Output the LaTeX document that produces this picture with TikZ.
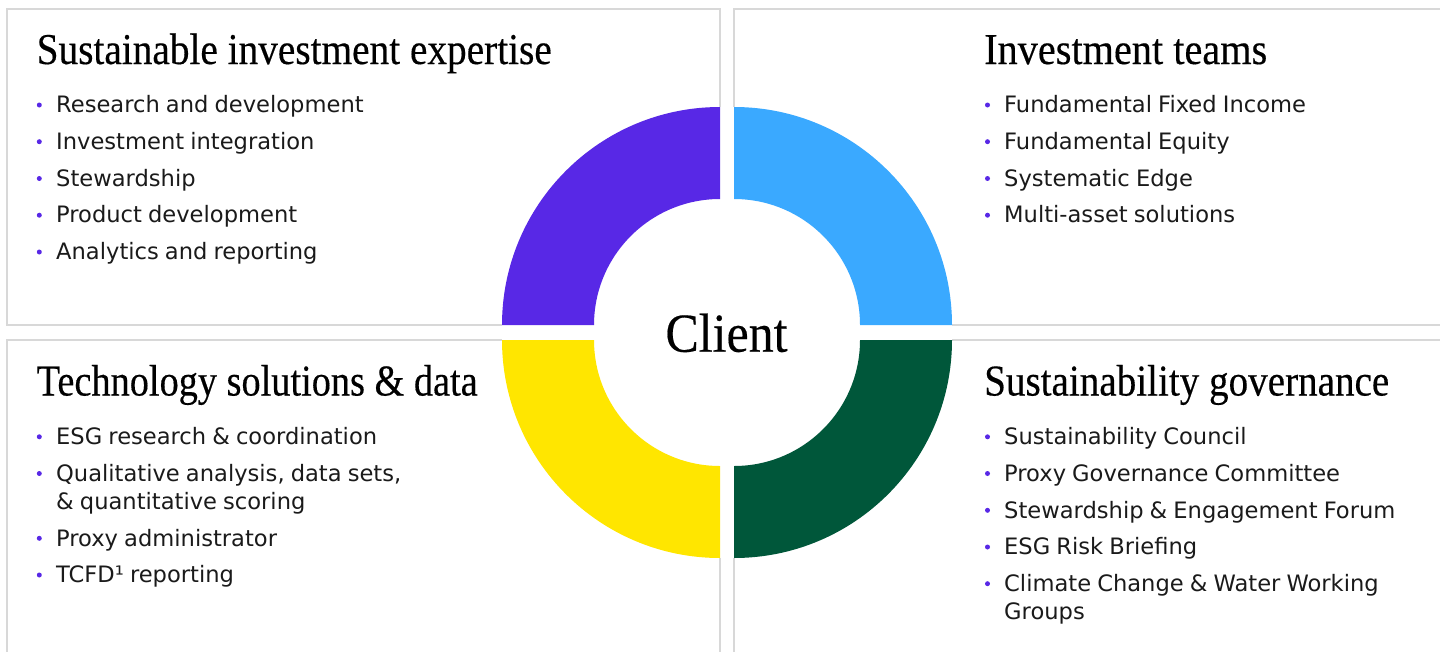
\documentclass[tikz,border=0pt]{standalone}
\usepackage{fontspec}
\usepackage{graphicx}
\setmainfont{Liberation Serif}
\newfontfamily\ttlfont{Liberation Serif}[FakeBold=0.35]
\newfontfamily\bodyfont{DejaVu Sans}[WordSpace=0.85]
\definecolor{cpurple}{HTML}{5828E6}
\definecolor{cblue}{HTML}{3AA9FF}
\definecolor{cyellow}{HTML}{FFE600}
\definecolor{cgreen}{HTML}{00573A}
\definecolor{cborder}{HTML}{D8D8D8}
\definecolor{ctext}{HTML}{1A1A1A}
\newcommand{\fitttl}[2]{\resizebox{#1}{\height}{#2}}
\begin{document}
\begin{tikzpicture}[x=1pt,y=-1pt,
  bord/.style={draw=cborder,line width=1.8pt},
  ttl/.style={anchor=base west,inner sep=0pt,font=\ttlfont\fontsize{44}{44}\selectfont,text=black},
  itm/.style={anchor=base west,inner sep=0pt,align=left,font=\bodyfont\fontsize{22.6}{28}\selectfont,text=ctext},
  bul/.style={fill=cpurple}]
\useasboundingbox (0,0) rectangle (1440,651);
% box borders
\draw[bord] (7,9) rectangle (720,325);
\draw[bord] (1450,9) -- (734,9) -- (734,325) -- (1450,325);
\draw[bord] (7,660) -- (7,340) -- (720,340) -- (720,660);
\draw[bord] (1450,340) -- (734,340) -- (734,660);
% white cover under ring
\fill[white] (720,325) -- (502,325) arc[start angle=180,end angle=270,radius=218] -- cycle;
\fill[white] (734,325) -- (952,325) arc[start angle=0,end angle=-90,radius=218] -- cycle;
\fill[white] (734,340) -- (952,340) arc[start angle=0,end angle=90,radius=218] -- cycle;
\fill[white] (720,340) -- (502,340) arc[start angle=180,end angle=90,radius=218] -- cycle;
\fill[white] (502,323.5) rectangle (952,341.5);
\fill[white] (718.5,107) rectangle (735.5,558);
% ring quadrants
\fill[cpurple] (502,325) arc[start angle=180,end angle=270,radius=218] -- (720,199) arc[start angle=270,end angle=180,radius=126] -- cycle;
\fill[cblue] (952,325) arc[start angle=0,end angle=-90,radius=218] -- (734,199) arc[start angle=270,end angle=360,radius=126] -- cycle;
\fill[cgreen] (952,340) arc[start angle=0,end angle=90,radius=218] -- (734,466) arc[start angle=90,end angle=0,radius=126] -- cycle;
\fill[cyellow] (502,340) arc[start angle=180,end angle=90,radius=218] -- (720,466) arc[start angle=90,end angle=180,radius=126] -- cycle;
% centre
\node[anchor=base,inner sep=0pt,font=\ttlfont\fontsize{55}{55}\selectfont] (client) at (726.5,351.7) {\fitttl{122pt}{Client}};
% titles
\node[ttl] (t1) at (36.5,64) {\fitttl{515pt}{Sustainable investment expertise}};
\node[ttl] (t2) at (984,64) {\fitttl{283pt}{Investment teams}};
\node[ttl] (t3) at (36.5,395.5) {\fitttl{441pt}{Technology solutions \& data}};
\node[ttl] (t4) at (984,395.5) {\fitttl{405pt}{Sustainability governance}};
% items: node baseline (last line) / bullet baseline (first line) / text
\foreach \y/\b/\t [count=\i] in {112.7/112.7/{Research and development},149.4/149.4/{Investment integration},186.2/186.2/{Stewardship},222.9/222.9/{Product development},259.7/259.7/{Analytics and reporting}}{
  \node[itm] (tl\i) at (56,\y) {\t};
  \fill[bul] (39.3,\b-7.7) circle[radius=2.5];
}
\foreach \y/\b/\t [count=\i] in {112.7/112.7/{Fundamental Fixed Income},149.4/149.4/{Fundamental Equity},186.2/186.2/{Systematic Edge},222.9/222.9/{Multi-asset solutions}}{
  \node[itm] (tr\i) at (1004,\y) {\t};
  \fill[bul] (987.5,\b-7.7) circle[radius=2.5];
}
\foreach \y/\b/\t [count=\i] in {444.5/444.5/{ESG research \& coordination},509.2/481.2/{Qualitative analysis, data sets,\\\& quantitative scoring},546/546/{Proxy administrator},582.7/582.7/{TCFD¹ reporting}}{
  \node[itm] (bl\i) at (56,\y) {\t};
  \fill[bul] (39.3,\b-7.7) circle[radius=2.5];
}
\foreach \y/\b/\t [count=\i] in {444.5/444.5/{Sustainability Council},481.2/481.2/{Proxy Governance Committee},518/518/{Stewardship \& Engagement Forum},554.7/554.7/{ESG Risk Briefing},619.4/591.4/{Climate Change \& Water Working\\Groups}}{
  \node[itm] (br\i) at (1004,\y) {\t};
  \fill[bul] (987.5,\b-7.7) circle[radius=2.5];
}
\end{tikzpicture}
\end{document}
